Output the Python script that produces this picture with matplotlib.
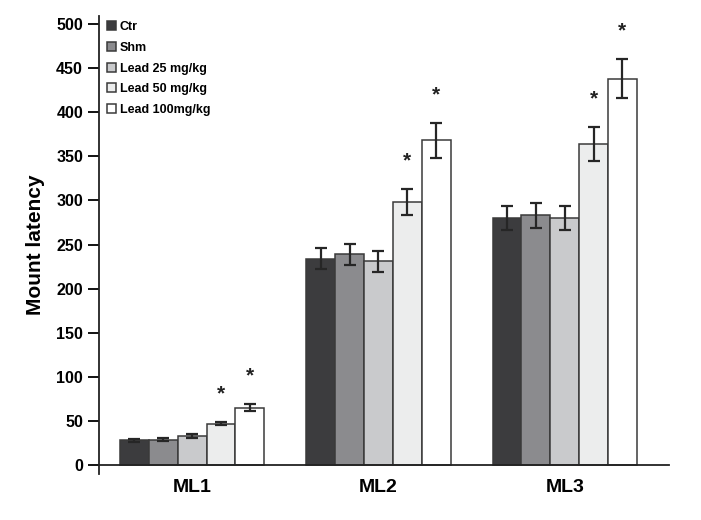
import numpy as np
import matplotlib.pyplot as plt
from matplotlib.patches import Patch

plt.rcParams['font.family'] = ['Liberation Sans', 'DejaVu Sans']
plt.rcParams['font.weight'] = 'bold'

groups = ['ML1', 'ML2', 'ML3']
series = ['Ctr', 'Shm', 'Lead 25 mg/kg', 'Lead 50 mg/kg', 'Lead 100mg/kg']
colors = ['#3c3c3e', '#8b8b8e', '#c9cacc', '#eceded', '#ffffff']

means = [
    [28, 29, 33, 47, 65],      # ML1
    [234, 239, 231, 298, 368],  # ML2
    [280, 283, 280, 364, 438],  # ML3
]
errors = [
    [2, 2, 2, 2, 4],
    [12, 12, 12, 15, 20],
    [14, 14, 14, 19, 22],
]
# significance marks (group index, series index)
stars = [(0, 3), (0, 4), (1, 3), (1, 4), (2, 3), (2, 4)]

means = np.array(means)
errors = np.array(errors)

fig = plt.figure(figsize=(7.01, 5.2), dpi=100)
ax = fig.add_axes([0.1412, 0.0885, 0.8132, 0.8807])

width = 0.155
x = np.arange(len(groups))
for j, name in enumerate(series):
    pos = x + (j - 2) * width
    ax.bar(pos, means[:, j], width, color=colors[j], edgecolor='#3a3a3a',
           linewidth=1.1, label=name, zorder=2)
    ax.errorbar(pos, means[:, j], yerr=errors[:, j], fmt='none', ecolor='#262626',
                elinewidth=1.6, capsize=4.5, capthick=1.6, zorder=3)

for g, s in stars:
    px = x[g] + (s - 2) * width
    ax.text(px, means[g, s] + errors[g, s] + 32, '*', ha='center', va='center',
            fontsize=15, color='#222222')

ax.set_xlim(-0.5, 2.56)
ax.set_ylim(-10, 509)
ax.set_yticks(np.arange(0, 501, 50))
ax.set_xticks(x)
ax.set_xticklabels(groups)
ax.tick_params(axis='x', length=0, pad=10, labelsize=14)
ax.tick_params(axis='y', length=8, width=1.3, labelsize=11.5, direction='out')

ax.spines['top'].set_visible(False)
ax.spines['right'].set_visible(False)
ax.spines['bottom'].set_position(('data', 0))
ax.spines['bottom'].set_linewidth(1.3)
ax.spines['left'].set_linewidth(1.3)
ax.spines['bottom'].set_color('#222222')
ax.spines['left'].set_color('#222222')

ax.set_ylabel('Mount latency', fontsize=15, fontweight='bold', labelpad=8)

handles = [Patch(facecolor=c, edgecolor='#3a3a3a', linewidth=1.1) for c in colors]
ax.legend(handles, series, loc='upper left', bbox_to_anchor=(0.005, 1.0),
          frameon=False, handlelength=0.75, handleheight=0.75,
          handletextpad=0.3, labelspacing=0.7, borderaxespad=0.1,
          borderpad=0.3, prop={'weight': 'bold', 'size': 9})

fig.savefig('out.png', dpi=100)
